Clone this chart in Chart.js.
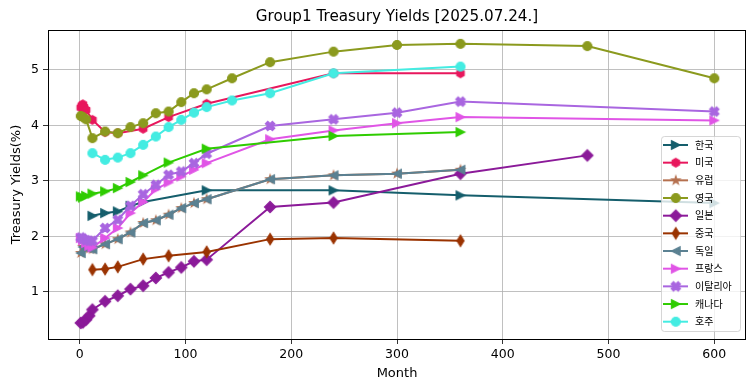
<!DOCTYPE html>
<html><head><meta charset="utf-8">
<script src="https://cdn.jsdelivr.net/npm/chart.js@4.4.1/dist/chart.umd.min.js"></script>
<style>html,body{margin:0;padding:0;background:#fff}#wrap{width:755px;height:391px;position:relative}</style>
</head><body><div id="wrap"><canvas id="c" width="755" height="391"></canvas></div>
<script>
const chartTitle = 'Group1 Treasury Yields [2025.07.24.]';
const xLabel = 'Month';
const yLabel = 'Treasury Yields(%)';
const xTicks = [0,100,200,300,400,500,600];
const yTicks = [1,2,3,4,5];

const countries = ['한국','미국','유럽','영국','일본','중국','독일','프랑스','이탈리아','캐나다','호주'];

const krMonths = [12,24,36,48,60,120,240,360,600];
const krYields = [2.37,2.42,2.45,2.55,2.62,2.83,2.83,2.74,2.60];
const usMonths = [1,2,3,4,6,12,24,36,60,84,120,240,360];
const usYields = [4.32,4.36,4.38,4.33,4.28,4.10,3.88,3.86,3.94,4.15,4.39,4.94,4.94];
const deMonths = [1,3,6,9,12,24,36,48,60,72,84,96,108,120,180,240,300,360];
const deYields = [1.70,1.81,1.80,1.78,1.77,1.86,1.95,2.07,2.24,2.29,2.39,2.51,2.60,2.67,3.03,3.10,3.13,3.20];
const euMonths = [1,3,6,9,12,24,36,48,60,72,84,96,108,120,180,240,300,360];
const euYields = [1.70,1.81,1.80,1.78,1.77,1.86,1.95,2.07,2.24,2.29,2.39,2.51,2.60,2.67,3.03,3.10,3.13,3.20];
const ukMonths = [1,3,6,12,24,36,48,60,72,84,96,108,120,144,180,240,300,360,480,600];
const ukYields = [4.17,4.15,4.11,3.77,3.89,3.86,3.97,4.04,4.22,4.25,4.42,4.58,4.65,4.85,5.14,5.33,5.45,5.47,5.43,4.85];
const jpMonths = [1,3,6,9,12,24,36,48,60,72,84,96,108,120,180,240,360,480];
const jpYields = [0.44,0.45,0.50,0.57,0.68,0.83,0.93,1.05,1.11,1.25,1.35,1.44,1.55,1.58,2.53,2.61,3.13,3.46];
const cnMonths = [12,24,36,60,84,120,180,240,360];
const cnYields = [1.40,1.41,1.45,1.59,1.65,1.72,1.95,1.97,1.92];
const frMonths = [1,3,6,9,12,24,36,48,60,72,84,96,108,120,180,240,300,360,600];
const frYields = [1.97,1.93,1.88,1.83,1.80,1.97,2.15,2.42,2.62,2.85,2.97,3.08,3.20,3.32,3.75,3.91,4.04,4.15,4.09];
const itMonths = [1,3,6,9,12,24,36,48,60,72,84,96,108,120,180,240,300,360,600];
const itYields = [1.98,1.96,1.93,1.92,1.92,2.15,2.30,2.55,2.76,2.93,3.11,3.17,3.32,3.49,3.99,4.11,4.23,4.43,4.25];
const caMonths = [1,3,6,12,24,36,48,60,84,120,240,360];
const caYields = [2.72,2.70,2.73,2.77,2.81,2.87,2.98,3.10,3.33,3.58,3.81,3.88];
const auMonths = [12,24,36,48,60,72,84,96,108,120,144,180,240,360];
const auYields = [3.50,3.38,3.42,3.50,3.65,3.80,3.97,4.10,4.23,4.33,4.45,4.58,4.94,5.06];

const seriesMonths = [krMonths,usMonths,euMonths,ukMonths,jpMonths,cnMonths,deMonths,frMonths,itMonths,caMonths,auMonths];
const seriesYields = [krYields,usYields,euYields,ukYields,jpYields,cnYields,deYields,frYields,itYields,caYields,auYields];
const colors = ['#155e6c','#e8175d','#b5704f','#8b9a1e','#8b1a99','#9a3300','#5b8192','#e055e6','#a966e0','#2fcc00','#44ece2'];
const shapes = ['>','h','*','o','D','d','<','>','X','>','o'];

function mk(shape, color){
  const S=18, c=document.createElement('canvas'); c.width=S; c.height=S;
  const g=c.getContext('2d'); g.translate(S/2,S/2);
  g.fillStyle=color; g.strokeStyle=color; g.lineWidth=1.2; g.lineJoin='miter';
  g.beginPath();
  const r=4.3;
  if(shape==='o'){ g.arc(0,0,r+0.2,0,Math.PI*2); }
  else if(shape==='D'){ g.moveTo(0,-5.6);g.lineTo(5.6,0);g.lineTo(0,5.6);g.lineTo(-5.6,0); }
  else if(shape==='d'){ g.moveTo(0,-5.6);g.lineTo(3.5,0);g.lineTo(0,5.6);g.lineTo(-3.5,0); }
  else if(shape==='>'){ g.moveTo(r,0); g.lineTo(-r,-r); g.lineTo(-r,r); }
  else if(shape==='<'){ g.moveTo(-r,0); g.lineTo(r,-r); g.lineTo(r,r); }
  else if(shape==='h'){ for(let i=0;i<6;i++){const a=(-90+i*60)*Math.PI/180; const px=r*Math.cos(a), py=r*Math.sin(a); i?g.lineTo(px,py):g.moveTo(px,py);} }
  else if(shape==='*'){ for(let i=0;i<10;i++){const a=(-90+i*36)*Math.PI/180; const rr=i%2?r*0.382:r; const px=rr*Math.cos(a), py=rr*Math.sin(a); i?g.lineTo(px,py):g.moveTo(px,py);} }
  else if(shape==='X'){
    const pts=[[-1,-3],[1,-3],[1,-1],[3,-1],[3,1],[1,1],[1,3],[-1,3],[-1,1],[-3,1],[-3,-1],[-1,-1]];
    const k=r/3, ca=Math.cos(Math.PI/4), sa=Math.sin(Math.PI/4);
    pts.forEach((p,i)=>{const x=(p[0]*ca-p[1]*sa)*k*1.15, y=(p[0]*sa+p[1]*ca)*k*1.15; i?g.lineTo(x,y):g.moveTo(x,y);});
  }
  g.closePath(); g.fill(); g.stroke();
  return c;
}
const markers = shapes.map((s,i)=>mk(s,colors[i]));

const datasets = countries.map((name,i)=>({
  label:name,
  data: seriesMonths[i].map((m,j)=>({x:m,y:seriesYields[i][j]})),
  borderColor: colors[i], backgroundColor: colors[i],
  borderWidth: 2, pointStyle: markers[i], pointRadius: 5, pointHoverRadius:5,
  tension: 0, fill:false, order: -i
}));

const decor = {
  id:'decor',
  afterDraw(chart){
    const ctx=chart.ctx, a=chart.chartArea;
    ctx.save();
    ctx.strokeStyle='#000'; ctx.lineWidth=1;
    ctx.strokeRect(Math.round(a.left)+0.5, Math.round(a.top)+0.5, Math.round(a.right-a.left)-1, Math.round(a.bottom-a.top));
    ctx.fillStyle='#000';
    ctx.textAlign='center'; ctx.textBaseline='middle';
    ctx.font='15.2px "DejaVu Sans"';
    ctx.fillText(chartTitle,(a.left+a.right)/2,17);
    ctx.font='13px "DejaVu Sans"';
    ctx.fillText(xLabel,(a.left+a.right)/2,374);
    ctx.save(); ctx.translate(17,(a.top+a.bottom)/2); ctx.rotate(-Math.PI/2); ctx.fillText(yLabel,0,0); ctx.restore();
    // legend
    const bx=661.5, by=136.5, bw=79, bh=195, rr=3;
    ctx.globalAlpha=0.8;
    ctx.beginPath(); ctx.roundRect(bx,by,bw,bh,rr); ctx.fillStyle='#fff'; ctx.fill();
    ctx.strokeStyle='#cccccc'; ctx.lineWidth=1; ctx.stroke();
    ctx.globalAlpha=1;
    ctx.font='10px "Noto Sans CJK KR"'; ctx.textAlign='left'; ctx.textBaseline='middle';
    countries.forEach((name,i)=>{
      const y=145+i*17.67;
      ctx.strokeStyle=colors[i]; ctx.lineWidth=2;
      ctx.beginPath(); ctx.moveTo(663,y); ctx.lineTo(688,y); ctx.stroke();
      ctx.drawImage(markers[i], 675.8-markers[i].width/2, y-markers[i].height/2);
      ctx.fillStyle='#000'; ctx.fillText(name,695,y);
    });
    ctx.restore();
  }
};

new Chart(document.getElementById('c'),{
  type:'line',
  data:{datasets},
  options:{
    responsive:false, animation:false, devicePixelRatio:1,
    layout:{padding:{top:30,right:9,left:0,bottom:0}},
    plugins:{legend:{display:false},title:{display:false},tooltip:{enabled:false}},
    scales:{
      x:{type:'linear',position:'bottom',min:-30,max:630,
        afterBuildTicks:s=>{s.ticks=xTicks.map(v=>({value:v}));},
        afterFit:s=>{s.height=52;},
        ticks:{color:'#000',font:{family:'DejaVu Sans',size:12.5},padding:3,maxRotation:0,autoSkip:false},
        grid:{color:'#b0b0b0',lineWidth:0.8,tickColor:'#000',tickLength:5,drawTicks:true},
        border:{display:false}},
      y:{type:'linear',min:0.15,max:5.72,
        afterBuildTicks:s=>{s.ticks=yTicks.map(v=>({value:v}));},
        afterFit:s=>{s.width=48;},
        ticks:{color:'#000',font:{family:'DejaVu Sans',size:12.5},padding:4,autoSkip:false},
        grid:{color:'#b0b0b0',lineWidth:0.8,tickColor:'#000',tickLength:5,drawTicks:true},
        border:{display:false}}
    }
  },
  plugins:[decor]
});
</script>
</body></html>
